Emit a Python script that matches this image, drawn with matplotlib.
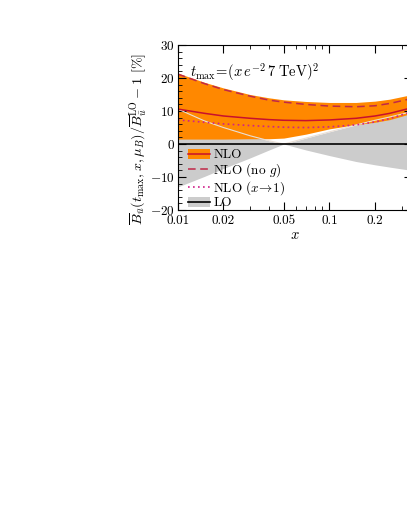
import numpy as np
import matplotlib
matplotlib.use('Agg')
import matplotlib.pyplot as plt
from matplotlib.patches import Patch
from matplotlib.lines import Line2D
from matplotlib.ticker import MultipleLocator, FixedLocator, FixedFormatter

plt.rcParams['font.family'] = 'serif'
plt.rcParams['font.serif'] = ['cmr10', 'DejaVu Serif']
plt.rcParams['mathtext.fontset'] = 'cm'
plt.rcParams['axes.formatter.use_mathtext'] = True

# values
x = [0.01, 0.015, 0.02, 0.03, 0.04, 0.05, 0.07, 0.1, 0.15, 0.2, 0.25, 0.35]
nlo_hi = [21.5, 18.7, 17.0, 15.0, 14.0, 13.4, 12.9, 12.6, 12.6, 13.0, 13.6, 15.0]
nlo_lo = [1.5, 1.5, 1.5, 1.6, 1.6, 1.8, 3.0, 4.6, 5.9, 6.6, 7.4, 9.3]
nlo = [10.6, 9.3, 8.5, 7.8, 7.4, 7.2, 7.1, 7.3, 7.8, 8.5, 9.3, 11.0]
nlo_nog = [21.2, 18.3, 16.5, 14.5, 13.3, 12.7, 12.0, 11.5, 11.3, 11.6, 12.3, 13.8]
nlo_x1 = [7.3, 6.6, 6.1, 5.6, 5.3, 5.1, 5.0, 5.2, 5.8, 6.7, 7.7, 9.8]
lo_hi = [10.6, 7.0, 5.0, 2.5, 1.0, 0.0, 1.8, 3.7, 5.8, 7.2, 8.2, 9.8]
lo_lo = [-13.0, -9.8, -7.4, -4.2, -1.8, 0.0, -1.8, -3.5, -5.3, -6.3, -7.0, -8.0]
lo = [0.0] * len(x)

xticks = [0.01, 0.02, 0.05, 0.1, 0.2]
xticklabels = ['0.01', '0.02', '0.05', '0.1', '0.2']

orange = '#ff8800'
red = '#c8102e'

fig = plt.figure(figsize=(4.07, 5.27), dpi=100)
ax = fig.add_axes([0.437, 0.6015, 0.575, 0.313])

ax.fill_between(x, lo_lo, lo_hi, color='#cccccc', lw=0)
ax.fill_between(x, nlo_lo, nlo_hi, color=orange, lw=0)
ax.plot(x, lo_hi, color='#eadfd5', lw=0.8)
ax.plot(x, lo, color='black', lw=1.2)
ax.plot(x, nlo, color=red, lw=1.1)
ax.plot(x, nlo_nog, color='#c02848', lw=1.1, ls=(0, (5, 3)))
ax.plot(x, nlo_x1, color='#d0208a', lw=1.2, ls=(0, (1, 2)))

ax.set_xscale('log')
ax.set_xlim(0.01, 0.35)
ax.set_ylim(-20, 30)
ax.xaxis.set_major_locator(FixedLocator(xticks))
ax.xaxis.set_major_formatter(FixedFormatter(xticklabels))
ax.xaxis.set_minor_locator(FixedLocator([0.03, 0.04, 0.06, 0.07, 0.08, 0.09, 0.3]))
ax.xaxis.set_minor_formatter(FixedFormatter([]))
ax.yaxis.set_major_locator(MultipleLocator(10))
ax.yaxis.set_minor_locator(MultipleLocator(2))
ax.tick_params(which='both', direction='in', top=True, right=True, labelsize=9.5)
ax.tick_params(which='major', length=6)
ax.tick_params(which='minor', length=3)
ax.tick_params(axis='y', pad=2)

ax.set_xlabel(r'$x$', fontsize=10.5, labelpad=1)
ax.set_ylabel(r'$\overline{B}_{\bar{u}}(t_{\max},x,\mu_B)/\overline{B}_{\bar{u}}^{\rm LO}-1$ [%]',
              fontsize=10.2)
ax.yaxis.set_label_coords(-0.125, 0.43)
ax.text(0.05, 0.905, r'$t_{\max}\!=\!(x\,e^{-2}\,7\;\mathrm{TeV})^2$', transform=ax.transAxes,
        fontsize=10.5, va='top')

handles = [
    (Patch(color=orange, lw=0), Line2D([], [], color=red, lw=1.1)),
    Line2D([], [], color='#c02848', lw=1.1, ls=(0, (5, 3))),
    Line2D([], [], color='#d0208a', lw=1.2, ls=(0, (1, 2))),
    (Patch(color='#cccccc', lw=0), Line2D([], [], color='black', lw=1.2)),
]
labels = ['NLO', r'NLO (no $g$)', r'NLO ($x\!\rightarrow\!1$)', 'LO']
ax.legend(handles, labels, loc='upper left', bbox_to_anchor=(0.045, 0.37), frameon=False,
          fontsize=9.5, handlelength=1.6, handleheight=0.75, handletextpad=0.3,
          labelspacing=0.0, borderaxespad=0, borderpad=0)

fig.savefig('out.png', dpi=100)
